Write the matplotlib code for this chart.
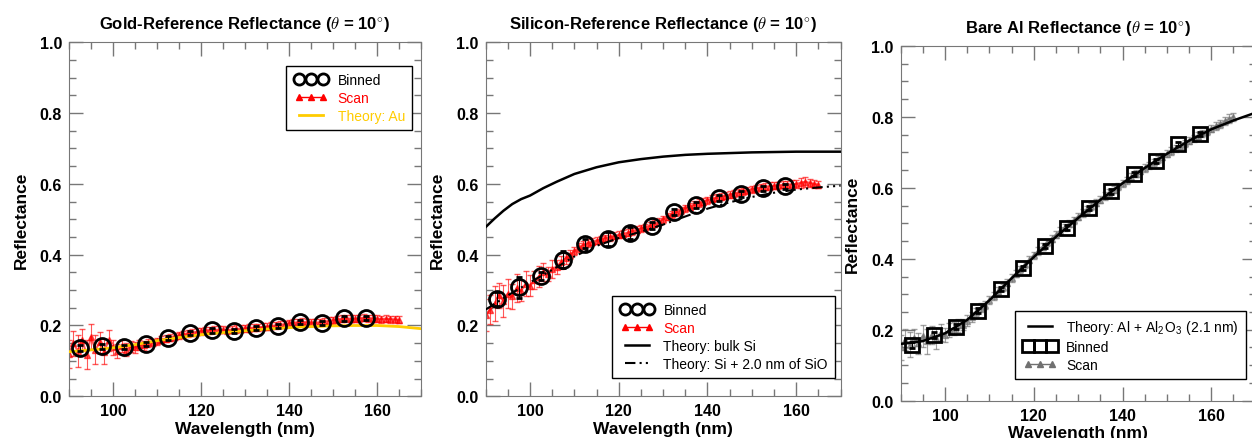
import matplotlib
matplotlib.use('Agg')
import matplotlib.pyplot as plt
import numpy as np
from matplotlib.lines import Line2D
from matplotlib.legend_handler import HandlerLine2D
from matplotlib.ticker import MultipleLocator, FormatStrFormatter

plt.rcParams['font.family'] = ['Liberation Sans', 'DejaVu Sans']
plt.rcParams['mathtext.fontset'] = 'cm'

# wavelength grids (nm)
scan_wl = np.arange(90, 166)
bin_wl = [92.5, 97.5, 102.5, 107.5, 112.5, 117.5, 122.5, 127.5,
          132.5, 137.5, 142.5, 147.5, 152.5, 157.5]
theory_wl = [90, 95, 100, 105, 110, 115, 120, 125, 130, 135, 140,
             145, 150, 155, 160, 165, 170]

# ---- gold reference ----
au_scan = [0.120, 0.150, 0.128, 0.160, 0.118, 0.168, 0.132, 0.152, 0.126, 0.158,
           0.138, 0.128, 0.142, 0.132, 0.140, 0.138, 0.146, 0.144, 0.150, 0.152,
           0.156, 0.160, 0.163, 0.166, 0.170, 0.172, 0.175, 0.178, 0.180, 0.182,
           0.184, 0.186, 0.187, 0.188, 0.188, 0.188, 0.187, 0.188, 0.190, 0.191,
           0.192, 0.193, 0.194, 0.195, 0.196, 0.197, 0.199, 0.200, 0.202, 0.204,
           0.206, 0.208, 0.209, 0.210, 0.209, 0.208, 0.208, 0.209, 0.211, 0.213,
           0.215, 0.217, 0.219, 0.220, 0.219, 0.219, 0.220, 0.222, 0.221, 0.220,
           0.219, 0.218, 0.219, 0.218, 0.217, 0.216]
au_scan_err = [0.040, 0.035, 0.045, 0.030, 0.040, 0.035, 0.040, 0.030, 0.035, 0.030,
               0.020, 0.020, 0.018, 0.018, 0.015, 0.015, 0.014, 0.012, 0.012, 0.011,
               0.010, 0.010, 0.010, 0.010, 0.010, 0.010, 0.010, 0.010, 0.010, 0.010,
               0.010, 0.010, 0.010, 0.010, 0.010, 0.010, 0.010, 0.010, 0.010, 0.010,
               0.010, 0.010, 0.010, 0.010, 0.010, 0.010, 0.010, 0.010, 0.010, 0.010,
               0.010, 0.010, 0.010, 0.010, 0.010, 0.010, 0.010, 0.010, 0.010, 0.010,
               0.010, 0.010, 0.010, 0.010, 0.010, 0.010, 0.010, 0.010, 0.010, 0.010,
               0.010, 0.010, 0.010, 0.010, 0.010, 0.010]
au_bin = [0.136, 0.141, 0.140, 0.147, 0.164, 0.178, 0.186, 0.185,
          0.192, 0.199, 0.210, 0.207, 0.220, 0.222]
au_bin_err = [0.008, 0.006, 0.006, 0.006, 0.006, 0.006, 0.006, 0.006,
              0.006, 0.006, 0.006, 0.006, 0.006, 0.006]
au_theory = [0.126, 0.131, 0.137, 0.146, 0.157, 0.166, 0.174, 0.180, 0.185,
             0.190, 0.194, 0.197, 0.199, 0.200, 0.200, 0.197, 0.191]

# ---- silicon reference ----
si_scan = [0.230, 0.245, 0.262, 0.285, 0.270, 0.290, 0.282, 0.305, 0.298, 0.318,
           0.312, 0.328, 0.338, 0.352, 0.345, 0.360, 0.366, 0.378, 0.390, 0.400,
           0.410, 0.420, 0.428, 0.432, 0.437, 0.440, 0.444, 0.447, 0.450, 0.453,
           0.456, 0.459, 0.462, 0.466, 0.470, 0.474, 0.478, 0.482, 0.487, 0.493,
           0.500, 0.507, 0.514, 0.520, 0.526, 0.531, 0.536, 0.541, 0.546, 0.550,
           0.554, 0.558, 0.561, 0.564, 0.567, 0.570, 0.573, 0.576, 0.579, 0.582,
           0.585, 0.588, 0.590, 0.592, 0.594, 0.595, 0.596, 0.597, 0.598, 0.599,
           0.600, 0.603, 0.606, 0.603, 0.600, 0.598]
si_scan_err = [0.045, 0.040, 0.050, 0.035, 0.045, 0.040, 0.035, 0.040, 0.030, 0.035,
               0.030, 0.025, 0.030, 0.025, 0.020, 0.025, 0.020, 0.018, 0.015, 0.013,
               0.012, 0.012, 0.011, 0.011, 0.010, 0.010, 0.010, 0.010, 0.010, 0.010,
               0.010, 0.010, 0.010, 0.010, 0.010, 0.010, 0.010, 0.010, 0.010, 0.010,
               0.010, 0.010, 0.010, 0.010, 0.010, 0.010, 0.010, 0.010, 0.010, 0.010,
               0.010, 0.010, 0.010, 0.010, 0.010, 0.010, 0.010, 0.010, 0.010, 0.010,
               0.010, 0.010, 0.010, 0.010, 0.010, 0.010, 0.010, 0.010, 0.011, 0.012,
               0.012, 0.014, 0.014, 0.012, 0.012, 0.011]
si_bin = [0.275, 0.308, 0.340, 0.386, 0.431, 0.445, 0.461, 0.482,
          0.520, 0.541, 0.560, 0.572, 0.587, 0.593]
si_bin_err = [0.020, 0.030, 0.012, 0.025, 0.012, 0.020, 0.016, 0.010,
              0.008, 0.008, 0.008, 0.008, 0.008, 0.008]
bulk_si_wl = [90, 92, 94, 96, 98, 100, 103, 106, 110, 115, 120, 125,
              130, 135, 140, 150, 160, 170]
bulk_si = [0.478, 0.502, 0.524, 0.543, 0.557, 0.567, 0.588, 0.606, 0.628,
           0.647, 0.661, 0.670, 0.677, 0.682, 0.685, 0.689, 0.691, 0.691]
sio_theory = [0.245, 0.285, 0.322, 0.357, 0.395, 0.425, 0.447, 0.465, 0.485,
              0.508, 0.530, 0.548, 0.563, 0.575, 0.584, 0.590, 0.595]

# ---- bare aluminium ----
al_scan = [0.150, 0.172, 0.158, 0.178, 0.162, 0.182, 0.168, 0.186, 0.176, 0.192,
           0.186, 0.200, 0.203, 0.212, 0.214, 0.226, 0.236, 0.250, 0.262, 0.270,
           0.283, 0.295, 0.310, 0.320, 0.333, 0.346, 0.358, 0.371, 0.384, 0.397,
           0.410, 0.422, 0.434, 0.446, 0.457, 0.468, 0.479, 0.489, 0.499, 0.509,
           0.519, 0.529, 0.539, 0.548, 0.558, 0.567, 0.577, 0.586, 0.595, 0.604,
           0.613, 0.622, 0.631, 0.640, 0.648, 0.656, 0.664, 0.672, 0.680, 0.688,
           0.696, 0.704, 0.712, 0.719, 0.726, 0.733, 0.740, 0.747, 0.754, 0.760,
           0.767, 0.774, 0.781, 0.788, 0.795, 0.800]
al_scan_err = [0.035, 0.030, 0.035, 0.025, 0.030, 0.030, 0.035, 0.025, 0.030, 0.025,
               0.020, 0.020, 0.018, 0.018, 0.015, 0.015, 0.015, 0.012, 0.012, 0.011,
               0.011, 0.010, 0.010, 0.010, 0.010, 0.010, 0.010, 0.010, 0.010, 0.010,
               0.010, 0.010, 0.010, 0.010, 0.010, 0.010, 0.010, 0.010, 0.010, 0.010,
               0.010, 0.010, 0.010, 0.010, 0.010, 0.010, 0.010, 0.010, 0.010, 0.010,
               0.010, 0.010, 0.010, 0.010, 0.010, 0.010, 0.010, 0.010, 0.010, 0.010,
               0.010, 0.010, 0.010, 0.010, 0.010, 0.010, 0.010, 0.010, 0.010, 0.010,
               0.010, 0.011, 0.011, 0.012, 0.012, 0.012]
al_bin = [0.157, 0.186, 0.209, 0.254, 0.315, 0.375, 0.436, 0.488,
          0.543, 0.590, 0.640, 0.675, 0.723, 0.751]
al_bin_err = [0.008, 0.008, 0.006, 0.006, 0.006, 0.006, 0.006, 0.006,
              0.006, 0.006, 0.006, 0.006, 0.006, 0.006]
al_theory = [0.160, 0.168, 0.190, 0.228, 0.283, 0.345, 0.405, 0.462, 0.515,
             0.566, 0.613, 0.656, 0.696, 0.733, 0.765, 0.790, 0.812]

GOLD = '#ffcc00'
SPINE = '#777777'


def style_axes(ax, title):
    ax.set_xlim(90, 170)
    ax.set_ylim(0, 1)
    ax.set_xticks([100, 120, 140, 160])
    ax.set_yticks([0.0, 0.2, 0.4, 0.6, 0.8, 1.0])
    ax.xaxis.set_minor_locator(MultipleLocator(5))
    ax.yaxis.set_minor_locator(MultipleLocator(0.05))
    ax.yaxis.set_major_formatter(FormatStrFormatter('%.1f'))
    ax.tick_params(which='both', direction='in', top=True, right=True,
                   color=SPINE, width=1)
    ax.tick_params(which='major', length=10, labelsize=11.5, pad=5)
    ax.tick_params(which='minor', length=5)
    for lbl in ax.get_xticklabels() + ax.get_yticklabels():
        lbl.set_fontweight('bold')
    for sp in ax.spines.values():
        sp.set_color(SPINE)
    ax.set_xlabel('Wavelength (nm)', fontsize=12.5, fontweight='bold', labelpad=2)
    ax.set_ylabel('Reflectance', fontsize=12.5, fontweight='bold', labelpad=8)
    ax.set_title(title, fontsize=12, fontweight='bold', pad=10)


def binned(ax, y, err, marker, ms):
    ax.errorbar(bin_wl, y, yerr=err, fmt=marker, ms=ms, mfc='none', mec='black',
                mew=2, ecolor='black', elinewidth=0.8, capsize=2.5, zorder=5)


def scan(ax, y, err, color):
    ax.errorbar(scan_wl, y, yerr=err, fmt='^-', ms=4.5, lw=1.5, color=color,
                elinewidth=0.8, capsize=2, alpha=0.65, zorder=2)


def make_legend(ax, handles, labels, colors, loc, anchor):
    leg = ax.legend(handles, labels, loc=loc, bbox_to_anchor=anchor,
                    borderaxespad=0, numpoints=3, handlelength=2.6,
                    handletextpad=0.6, labelspacing=0.3, fontsize=10,
                    borderpad=0.5, fancybox=False, framealpha=1,
                    edgecolor='black',
                    handler_map={Line2D: HandlerLine2D(marker_pad=0.45)})
    leg.get_frame().set_linewidth(1)
    for txt, c in zip(leg.get_texts(), colors):
        txt.set_color(c)


fig = plt.figure(figsize=(12.52, 4.39), dpi=100)

h_bin_o = Line2D([], [], ls='none', marker='o', ms=8, mfc='none', mec='black', mew=2)
h_scan_r = Line2D([], [], color='red', marker='^', ms=4, lw=1)

# panel 1: gold
ax1 = fig.add_axes([0.0551, 0.095, 0.2812, 0.8064])
scan(ax1, au_scan, au_scan_err, 'red')
ax1.plot(theory_wl, au_theory, color=GOLD, lw=2, zorder=3)
binned(ax1, au_bin, au_bin_err, 'o', 11.5)
style_axes(ax1, r'Gold-Reference Reflectance ($\theta$ = 10$^{\circ}$)')
make_legend(ax1,
            [h_bin_o, h_scan_r, Line2D([], [], color=GOLD, lw=2)],
            ['Binned', 'Scan', 'Theory: Au'],
            ['black', 'red', GOLD], 'upper right', (0.974, 0.933))

# panel 2: silicon
ax2 = fig.add_axes([0.3879, 0.095, 0.2835, 0.8064])
scan(ax2, si_scan, si_scan_err, 'red')
ax2.plot(bulk_si_wl, bulk_si, color='black', lw=1.8, zorder=3)
dashdotdot = (0, (5, 2, 1, 2, 1, 2))
ax2.plot(theory_wl, sio_theory, color='black', lw=1.5, ls=dashdotdot, zorder=3)
binned(ax2, si_bin, si_bin_err, 'o', 11.5)
style_axes(ax2, r'Silicon-Reference Reflectance ($\theta$ = 10$^{\circ}$)')
make_legend(ax2,
            [h_bin_o, h_scan_r, Line2D([], [], color='black', lw=1.8),
             Line2D([], [], color='black', lw=1.5, ls=dashdotdot)],
            ['Binned', 'Scan', 'Theory: bulk Si', 'Theory: Si + 2.0 nm of SiO'],
            ['black', 'red', 'black', 'black'], 'lower right', (0.984, 0.051))

# panel 3: bare Al
ax3 = fig.add_axes([0.7194, 0.085, 0.2835, 0.808])
scan(ax3, al_scan, al_scan_err, '#707070')
ax3.plot(theory_wl, al_theory, color='black', lw=1.8, zorder=3)
binned(ax3, al_bin, al_bin_err, 's', 10)
style_axes(ax3, r'Bare Al Reflectance ($\theta$ = 10$^{\circ}$)')
make_legend(ax3,
            [Line2D([], [], color='black', lw=1.8),
             Line2D([], [], ls='none', marker='s', ms=8, mfc='none', mec='black', mew=2),
             Line2D([], [], color='#707070', marker='^', ms=4, lw=1)],
            [r'Theory: Al + Al$_\mathregular{2}$O$_\mathregular{3}$ (2.1 nm)', 'Binned', 'Scan'],
            ['black', 'black', 'black'], 'lower right', (0.972, 0.061))

fig.savefig('out.png', dpi=100)
